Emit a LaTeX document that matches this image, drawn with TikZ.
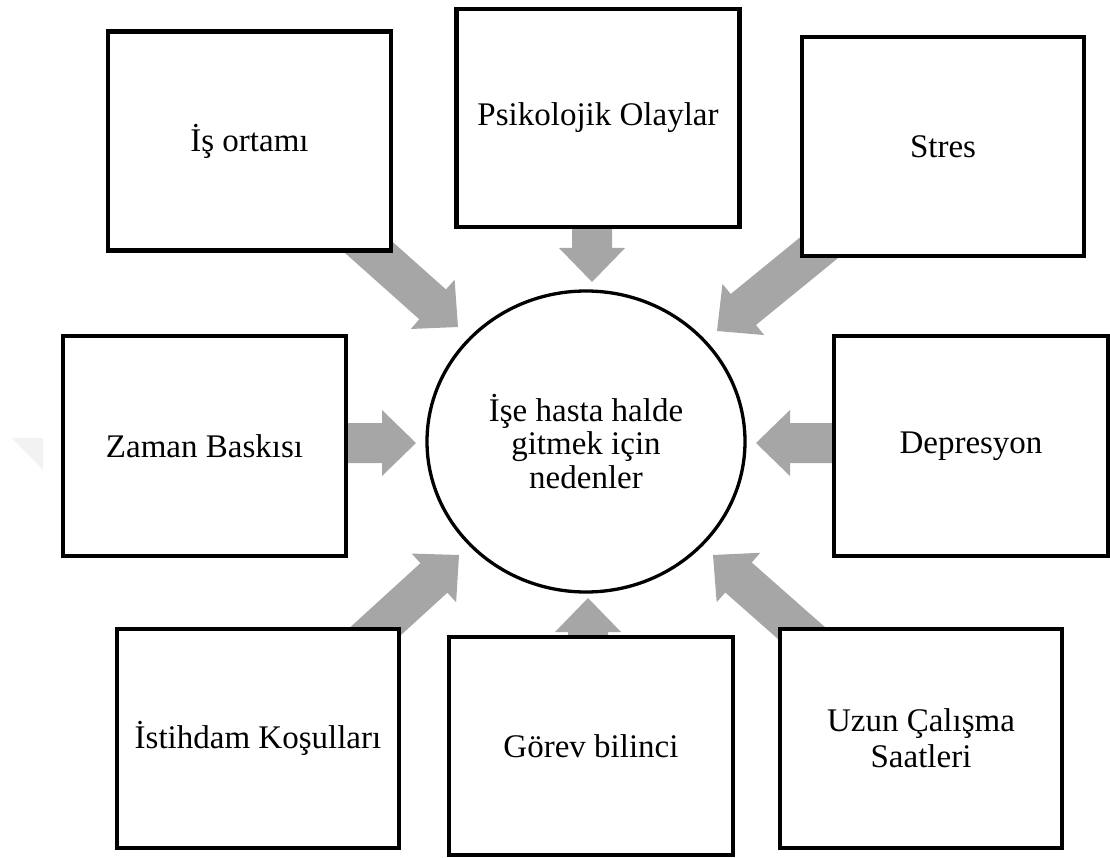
\documentclass[tikz,border=0pt]{standalone}
\usepackage{fontspec}
\setmainfont{Liberation Serif}
\usetikzlibrary{calc,shapes.geometric}
\definecolor{arrowgrey}{RGB}{166,166,166}
\definecolor{markgrey}{RGB}{242,242,242}
\pgfdeclarelayer{background}
\pgfsetlayers{background,main}
\tikzset{
  reason/.style={draw=black, line width=4.5pt, fill=white,
    minimum width=283pt, minimum height=219pt, inner sep=0pt,
    align=center, font=\fontsize{33}{36}\selectfont},
  hub/.style={draw=black, line width=3.3pt, fill=white, ellipse,
    minimum width=318pt, minimum height=301pt, inner sep=0pt,
    align=center, font=\fontsize{33}{33.5}\selectfont},
  arrowbody/.style={fill=arrowgrey, draw=none}
}
% Block arrow: #1 = start coordinate, #2 = tip coordinate
\newcommand{\reasonarrow}[2]{%
  \coordinate (ah) at ($(#2)!34pt!(#1)$);
  \fill[arrowbody] ($(#1)!20pt!90:(#2)$) -- ($(ah)!20pt!90:(#2)$)
    -- ($(ah)!33pt!90:(#2)$) -- (#2) -- ($(ah)!33pt!-90:(#2)$)
    -- ($(ah)!20pt!-90:(#2)$) -- ($(#1)!20pt!-90:(#2)$) -- cycle;
}
\begin{document}
\begin{tikzpicture}[x=1pt, y=-1pt]
\useasboundingbox (0,0) rectangle (1110,858);

% central ellipse
\node[hub] (hub) at (586,441.5) {İşe hasta halde\\gitmek için\\nedenler};

% surrounding reasons
\node[reason] (io) at (249.5,141) {İş ortamı};
\node[reason, minimum height=218pt] (pk) at (598,118) {Psikolojik Olaylar};
\node[reason, minimum width=282pt] (st) at (943,146.5) {Stres};
\node[reason, minimum height=220pt] (zb) at (204.5,446) {Zaman Baskısı};
\node[reason, minimum width=274pt, minimum height=220pt] (dp) at (971,446) {Depresyon};
\node[reason, minimum width=282pt] (ik) at (258,738.5) {İstihdam Koşulları};
\node[reason, minimum width=284pt, minimum height=218pt] (gb) at (591,746) {Görev bilinci};
\node[reason, minimum width=282pt] (uc) at (921,738.5) {Uzun Çalışma\\Saatleri};

% arrow tips near the ellipse
\coordinate (t1) at (458,327);
\coordinate (t2) at (592,282);
\coordinate (t3) at (717,331);
\coordinate (t4) at (416,443);
\coordinate (t5) at (756,443);
\coordinate (t6) at (459,555);
\coordinate (t7) at (588,598);
\coordinate (t8) at (713,555);

\begin{pgfonlayer}{background}
  % faint mark at the left edge
  \fill[markgrey] (12,438) -- (43,438) -- (43,470) -- cycle;
  % straight arrows start level with their box centres
  \coordinate (s2) at (t2 |- pk);
  \coordinate (s4) at (t4 -| zb);
  \coordinate (s5) at (t5 -| dp);
  \coordinate (s7) at (t7 |- gb);
  \reasonarrow{io}{t1}
  \reasonarrow{s2}{t2}
  \reasonarrow{st}{t3}
  \reasonarrow{s4}{t4}
  \reasonarrow{s5}{t5}
  \reasonarrow{ik}{t6}
  \reasonarrow{s7}{t7}
  \reasonarrow{uc}{t8}
\end{pgfonlayer}
\end{tikzpicture}
\end{document}
